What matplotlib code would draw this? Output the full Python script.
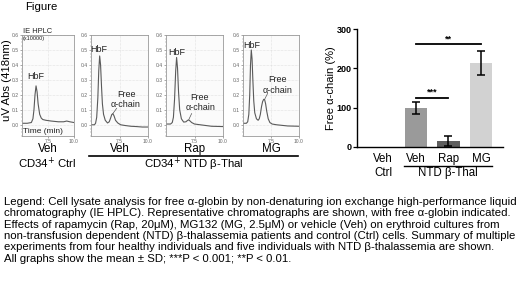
import matplotlib
matplotlib.use("Agg")
import matplotlib.pyplot as plt
from matplotlib.lines import Line2D

plt.rcParams['font.family'] = ['Liberation Sans', 'DejaVu Sans']

# ---------------- data ----------------
# chromatograms: time (min) and absorbance (x10000)
ctrl_veh_t = [5.0, 5.5, 5.9, 6.05, 6.15, 6.25, 6.35, 6.45, 6.55, 6.7, 6.85, 7.0, 7.3, 7.8, 8.5, 9.0, 9.3, 9.6, 10.0]
ctrl_veh_a = [0.01, 0.01, 0.015, 0.04, 0.1, 0.2, 0.26, 0.22, 0.14, 0.07, 0.045, 0.035, 0.03, 0.025, 0.02, 0.02, 0.025, 0.02, 0.015]

ntd_veh_t = [5.0, 5.3, 5.4, 5.5, 5.6, 5.68, 5.76, 5.84, 5.92, 6.0, 6.1, 6.25, 6.45, 6.6, 6.72, 6.82, 6.92, 7.02, 7.15, 7.35, 7.6, 8.0, 8.5, 9.0, 9.5, 10.0]
ntd_veh_a = [0.0, 0.0, 0.01, 0.05, 0.18, 0.36, 0.46, 0.4, 0.26, 0.14, 0.07, 0.03, 0.012, 0.02, 0.045, 0.068, 0.074, 0.06, 0.03, 0.012, 0.0, -0.005, -0.01, -0.012, -0.015, -0.015]

ntd_rap_t = [5.0, 5.4, 5.55, 5.65, 5.75, 5.85, 5.93, 6.01, 6.1, 6.2, 6.35, 6.55, 6.75, 6.9, 7.0, 7.1, 7.25, 7.5, 8.0, 9.0, 10.0]
ntd_rap_a = [0.005, 0.005, 0.015, 0.05, 0.17, 0.36, 0.45, 0.38, 0.22, 0.1, 0.04, 0.018, 0.02, 0.03, 0.032, 0.026, 0.015, 0.005, 0.0, -0.01, -0.012]

ntd_mg_t = [5.0, 5.3, 5.42, 5.52, 5.6, 5.67, 5.74, 5.81, 5.88, 5.96, 6.05, 6.2, 6.35, 6.45, 6.55, 6.65, 6.75, 6.85, 6.93, 7.02, 7.12, 7.25, 7.4, 7.6, 8.0, 9.0, 10.0]
ntd_mg_a = [0.01, 0.01, 0.02, 0.07, 0.2, 0.4, 0.5, 0.44, 0.3, 0.16, 0.08, 0.04, 0.03, 0.04, 0.07, 0.12, 0.155, 0.17, 0.168, 0.14, 0.09, 0.04, 0.015, 0.005, 0.0, -0.008, -0.01]

panel_names = ["Veh", "Veh", "Rap", "MG"]
# label anchor positions (time, absorbance)
hbf_label = [(6.3, 0.32), (5.66, 0.50), (5.98, 0.48), (5.8, 0.53)]
alpha_line = [None, (6.92, 0.075, 7.25, 0.11), (7.0, 0.035, 7.25, 0.075), (6.93, 0.17, 7.2, 0.21)]
free_label = [None, (8.1, 0.20), (7.95, 0.18), (8.1, 0.30)]
chain_label = [None, (8.0, 0.135), (8.0, 0.115), (8.1, 0.23)]

# bar chart
bar_labels = ["Veh", "Veh", "Rap", "MG"]
bar_values = [0, 100, 15, 213]
bar_errors = [0, 15, 12, 30]
bar_colors = ["#888888", "#9a9a9a", "#5e5e5e", "#d2d2d2"]
bar_yticks = [0, 100, 200, 300]

legend_lines = [
    "Legend: Cell lysate analysis for free \u03b1-globin by non-denaturing ion exchange high-performance liquid",
    "chromatography (IE HPLC). Representative chromatographs are shown, with free \u03b1-globin indicated.",
    "Effects of rapamycin (Rap, 20\u03bcM), MG132 (MG, 2.5\u03bcM) or vehicle (Veh) on erythroid cultures from",
    "non-transfusion dependent (NTD) \u03b2-thalassemia patients and control (Ctrl) cells. Summary of multiple",
    "experiments from four healthy individuals and five individuals with NTD \u03b2-thalassemia are shown.",
    "All graphs show the mean \u00b1 SD; ***P < 0.001; **P < 0.01.",
]

# ---------------- layout ----------------
W, H = 520, 282
fig = plt.figure(figsize=(W / 100, H / 100), dpi=100)
fig.patch.set_facecolor("white")


def rect(l, r, t, b):
    return [l / W, 1 - b / H, (r - l) / W, (b - t) / H]


def ftext(x, y, s, **kw):
    fig.text(x / W, 1 - y / H, s, **kw)


ftext(25, 7, "Figure", fontsize=8.2, ha="left", va="center")

traces = [(ctrl_veh_t, ctrl_veh_a), (ntd_veh_t, ntd_veh_a), (ntd_rap_t, ntd_rap_a), (ntd_mg_t, ntd_mg_a)]
panel_px = [(22, 74), (91, 148), (166, 223), (243, 299)]
for i, ((t, a), (l, r)) in enumerate(zip(traces, panel_px)):
    ax = fig.add_axes(rect(l, r, 35, 136))
    ax.set_facecolor("#fbfbfb")
    ax.plot(t, a, color="#5a5a5a", lw=0.8)
    ax.set_xlim(5.0, 10.0)
    ax.set_ylim(-0.075, 0.6)
    ax.set_yticks([0.0, 0.1, 0.2, 0.3, 0.4, 0.5, 0.6])
    ax.set_yticklabels(["0.0", "0.1", "0.2", "0.3", "0.4", "0.5", "0.6"])
    ax.set_yticks([k * 0.025 - 0.075 for k in range(28)], minor=True)
    ax.set_xticks([7.5, 10.0])
    ax.set_xticklabels(["7.5", "10.0"])
    ax.tick_params(axis="both", which="major", labelsize=3.6, colors="#666666",
                   length=1.5, width=0.4, pad=1)
    ax.tick_params(axis="y", which="minor", length=0.8, width=0.3, colors="#777777")
    for s in ax.spines.values():
        s.set_color("#999999")
        s.set_linewidth(0.6)
    ax.grid(True, which="major", color="#cccccc", lw=0.4, ls=(0, (1, 1.5)))
    hx, hy = hbf_label[i]
    ax.text(hx, hy, "HbF", fontsize=6.5, ha="center", va="center", color="#222222")
    if alpha_line[i] is not None:
        x0, y0, x1, y1 = alpha_line[i]
        ax.plot([x0, x1], [y0, y1], color="#555555", lw=0.5)
        fx, fy = free_label[i]
        ax.text(fx, fy, "Free", fontsize=6.5, ha="center", va="center", color="#222222")
        cx, cy = chain_label[i]
        ax.text(cx, cy, "\u03b1-chain", fontsize=6.5, ha="center", va="center", color="#222222")
    ftext((l + r) / 2, 149, panel_names[i], fontsize=8.3, ha="center", va="center")
    if i == 0:
        ax.text(5.05, 0.6, "IE HPLC", fontsize=5.4, ha="left", va="bottom", color="#222222")
        ax.text(5.05, 0.595, "(x10000)", fontsize=4.0, ha="left", va="top", color="#222222")
        ax.text(5.1, -0.07, "Time (min)", fontsize=6.0, ha="left", va="bottom", color="#222222")

ftext(7, 80, "uV Abs (418nm)", fontsize=8.2, rotation=90, ha="center", va="center")
ftext(47, 163, "CD34$^{+}$ Ctrl", fontsize=8.2, ha="center", va="center")
fig.add_artist(Line2D([89 / W, 298 / W], [1 - 155.5 / H] * 2, color="black", lw=1.2))
ftext(194, 164, "CD34$^{+}$ NTD \u03b2-Thal", fontsize=8.2, ha="center", va="center")

# ---------------- bar chart ----------------
bx = fig.add_axes(rect(357, 503, 29, 147))
pos = list(range(len(bar_values)))
bx.bar(pos, bar_values, width=0.68, color=bar_colors, edgecolor="none")
bx.errorbar(pos[1:], bar_values[1:], yerr=bar_errors[1:], fmt="none", ecolor="black",
            elinewidth=1.1, capsize=3, capthick=1.1)
bx.set_xlim(-0.8, 3.67)
bx.set_ylim(0, 300)
bx.set_yticks(bar_yticks)
bx.set_yticklabels([str(v) for v in bar_yticks], fontweight="bold")
bx.set_xticks(pos)
bx.set_xticklabels(bar_labels)
bx.tick_params(axis="y", labelsize=6.5, length=3, width=0.9, pad=1)
bx.tick_params(axis="x", labelsize=8.3, length=0, pad=4)
for s in ["top", "right"]:
    bx.spines[s].set_visible(False)
for s in ["left", "bottom"]:
    bx.spines[s].set_linewidth(1.0)
bx.set_ylabel("Free \u03b1-chain (%)", fontsize=8, labelpad=0)

# significance
bx.plot([1, 2], [125, 125], color="black", lw=1.3, clip_on=False)
bx.text(1.5, 127, "***", fontsize=6.5, ha="center", va="bottom", fontweight="bold")
bx.plot([1, 3], [262, 262], color="black", lw=1.3, clip_on=False)
bx.text(2, 264, "**", fontsize=6.5, ha="center", va="bottom", fontweight="bold")

ftext(383, 173, "Ctrl", fontsize=8.3, ha="center", va="center")
fig.add_artist(Line2D([404 / W, 492 / W], [1 - 166 / H] * 2, color="black", lw=1.0))
ftext(448, 173, "NTD \u03b2-Thal", fontsize=8.3, ha="center", va="center")

# ---------------- legend text ----------------
for k, line in enumerate(legend_lines):
    ftext(4, 202 + k * 11.3, line, fontsize=8.2, ha="left", va="center")

fig.savefig("out.png", dpi=100)
